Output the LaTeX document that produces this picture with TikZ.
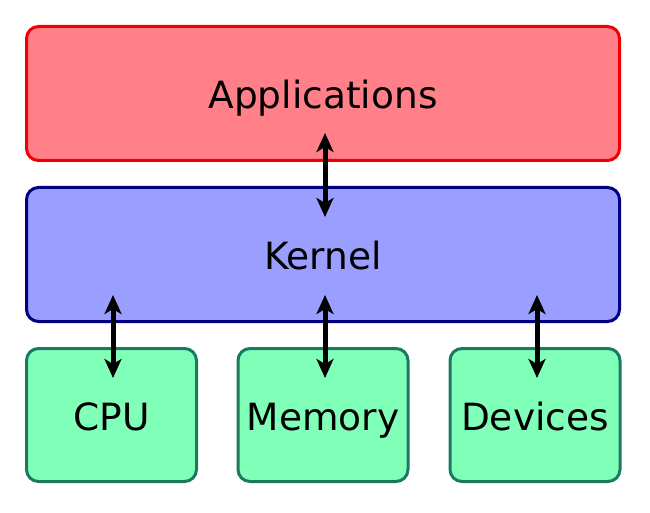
\documentclass[tikz,border=0pt]{standalone}
\usepackage{fontspec}
\setmainfont{DejaVu Sans}
\usetikzlibrary{arrows.meta}
\definecolor{appfill}{RGB}{255,128,136}
\definecolor{appdraw}{RGB}{240,0,0}
\definecolor{kernfill}{RGB}{154,158,255}
\definecolor{kerndraw}{RGB}{0,0,128}
\definecolor{hwfill}{RGB}{128,255,184}
\definecolor{hwdraw}{RGB}{26,122,96}
\tikzset{
  layer/.style={rectangle, rounded corners=12pt, line width=3pt, inner sep=0pt,
    text height=30pt, text depth=0pt, font=\fontsize{37.5}{41}\selectfont},
  applayer/.style={layer, fill=appfill, draw=appdraw, minimum width=593pt, minimum height=134pt},
  kernlayer/.style={layer, fill=kernfill, draw=kerndraw, minimum width=593pt, minimum height=134pt},
  hwlayer/.style={layer, fill=hwfill, draw=hwdraw, minimum width=170pt, minimum height=133pt},
  link/.style={line width=5pt, {Stealth[length=19pt,width=17pt,inset=5pt]}-{Stealth[length=19pt,width=17pt,inset=5pt]}}
}
\begin{document}
\begin{tikzpicture}[x=1pt,y=-1pt]
\useasboundingbox (0,0) rectangle (650,513);
\node[applayer] (app) at (323,93.5) {Applications};
\node[kernlayer] (kern) at (323,254.5) {Kernel};
\node[hwlayer] (cpu) at (111.5,415) {CPU};
\node[hwlayer] (mem) at (323,415) {Memory};
\node[hwlayer] (dev) at (535,415) {Devices};
\draw[link] ([xshift=2pt,yshift=29pt]app.south) -- ([xshift=2pt,yshift=-31pt]kern.north);
\draw[link] ([xshift=1.5pt,yshift=28pt]cpu.north |- kern.south) -- ([xshift=1.5pt,yshift=-31pt]cpu.north);
\draw[link] ([xshift=2pt,yshift=28pt]mem.north |- kern.south) -- ([xshift=2pt,yshift=-31pt]mem.north);
\draw[link] ([xshift=2pt,yshift=28pt]dev.north |- kern.south) -- ([xshift=2pt,yshift=-31pt]dev.north);
\end{tikzpicture}
\end{document}
